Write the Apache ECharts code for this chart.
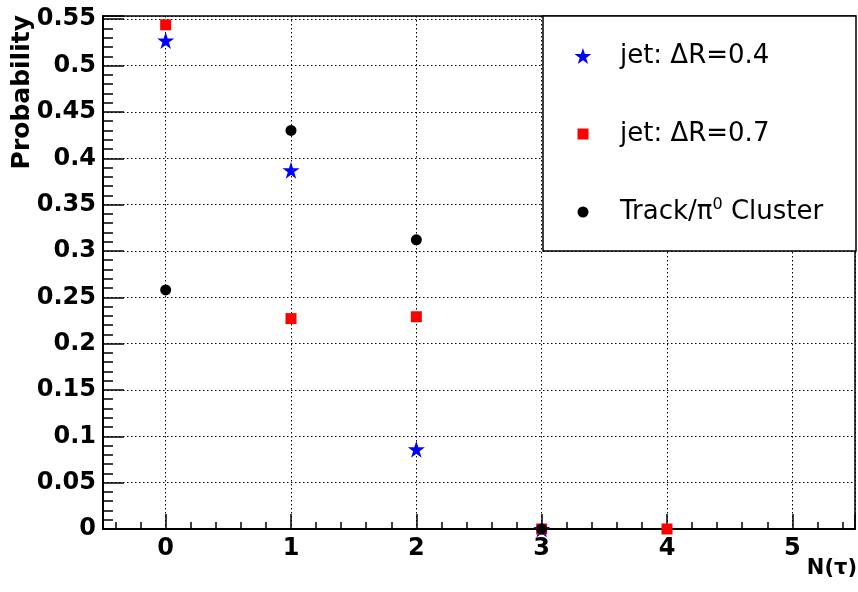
<!DOCTYPE html>
<html>
<head>
<meta charset="utf-8">
<script src="https://cdn.jsdelivr.net/npm/echarts@6/dist/echarts.min.js"></script>
<style>
  html, body { margin: 0; padding: 0; background: #fff; }
  #chart { width: 858px; height: 592px; }
</style>
</head>
<body>
<div id="chart"></div>
<script>
// Number of taus per event and the probability for each reconstruction
const nTau = [0, 1, 2, 3, 4];
const jet04 = [0.527, 0.387, 0.086, 0];
const jet07 = [0.544, 0.227, 0.229, 0, 0];
const cluster = [0.258, 0.430, 0.312, 0];

const seriesNames = ['jet: \u0394R=0.4', 'jet: \u0394R=0.7', 'Track/\u03c00 Cluster'];
const xTickLabels = ['0', '1', '2', '3', '4', '5'];

const X_MIN = -0.5, X_MAX = 5.5;
const Y_MIN = 0, Y_MAX = 0.5535, Y_STEP = 0.05;

const STAR = 'path://M0,-1 L0.2245,-0.309 L0.951,-0.309 L0.363,0.118 L0.588,0.809 L0,0.382 L-0.588,0.809 L-0.363,0.118 L-0.951,-0.309 L-0.2245,-0.309 Z';

const pairs = vals => vals.map((v, i) => [nTau[i], v]);

// plot frame in pixels
const FR = { left: 103, right: 855, top: 16, bottom: 529 };
const pxPerX = (FR.right - FR.left) / (X_MAX - X_MIN);
const pxPerY = (FR.bottom - FR.top) / (Y_MAX - Y_MIN);

const bold = { fontFamily: 'DejaVu Sans', fontWeight: 'bold', fontSize: 24, color: '#000' };
const gridLine = { show: true, lineStyle: { color: '#000', width: 1, type: [1.5, 2.5] } };

const chart = echarts.init(document.getElementById('chart'), null, { renderer: 'canvas' });

const legendText = { fontFamily: 'DejaVu Sans', fontSize: 26, color: '#000', lineHeight: 30 };

function legendAt(name, cx, cy, w, h) {
  return {
    data: [name],
    orient: 'vertical',
    left: cx - w / 2,
    top: cy - 15,
    padding: 0,
    itemWidth: w,
    itemHeight: h,
    selectedMode: false,
    z: 100,
    textStyle: Object.assign({}, legendText, {
      padding: [0, 0, 0, 620 - (cx - w / 2 + w + 5)],
      rich: {
        t: { fontFamily: 'DejaVu Sans', fontSize: 26, color: '#000', lineHeight: 30 },
        sup: { fontFamily: 'DejaVu Sans', fontSize: 16, color: '#000', lineHeight: 30, verticalAlign: 'top', padding: [0, 0, 10, 0] }
      }
    }),
    formatter: n => n === seriesNames[2] ? '{t|Track/\u03c0}{sup|0}{t| Cluster}' : n
  };
}

const option = {
  animation: false,
  backgroundColor: '#fff',
  grid: [
    { left: FR.left, top: FR.top, width: FR.right - FR.left, height: FR.bottom - FR.top,
      show: true, borderColor: '#000', borderWidth: 1.5, backgroundColor: 'transparent' },
    // minor x ticks every 0.2
    { left: FR.left + 0.1 * pxPerX, top: FR.top, width: (FR.right - FR.left) - 0.2 * pxPerX, height: FR.bottom - FR.top },
    // minor y ticks every 0.01
    { left: FR.left, top: FR.bottom - 0.55 * pxPerY, width: FR.right - FR.left, height: 0.55 * pxPerY }
  ],
  xAxis: [
    {
      gridIndex: 0, type: 'value', min: X_MIN, max: X_MAX, splitNumber: 6,
      axisLine: { show: true, onZero: false, lineStyle: { color: '#000', width: 2 } },
      axisTick: { show: true, inside: true, length: 15, lineStyle: { color: '#000', width: 1.5 } },
      axisLabel: Object.assign({}, bold, {
        margin: 8,
        formatter: v => Number.isInteger(Math.round(v * 1e6) / 1e6) ? xTickLabels[Math.round(v)] : ''
      }),
      splitLine: gridLine
    },
    {
      gridIndex: 1, type: 'value', min: -0.4, max: 5.4, interval: 0.2,
      axisLine: { show: false },
      axisTick: { show: true, inside: true, length: 7, lineStyle: { color: '#000', width: 1.5 } },
      axisLabel: { show: false }, splitLine: { show: false }
    },
    { gridIndex: 2, type: 'value', show: false, min: 0, max: 1 }
  ],
  yAxis: [
    {
      gridIndex: 0, type: 'value', min: Y_MIN, max: Y_MAX, interval: Y_STEP,
      axisLine: { show: true, onZero: false, lineStyle: { color: '#000', width: 2 } },
      axisTick: { show: true, inside: true, length: 21, lineStyle: { color: '#000', width: 1.5 } },
      axisLabel: Object.assign({}, bold, {
        margin: 7,
        formatter: v => {
          const k = v / Y_STEP;
          return Math.abs(k - Math.round(k)) < 1e-6 ? String(Math.round(k) * 5 / 100) : '';
        }
      }),
      splitLine: gridLine
    },
    { gridIndex: 1, type: 'value', show: false, min: 0, max: 1 },
    {
      gridIndex: 2, type: 'value', min: 0, max: 0.55, interval: 0.01,
      axisLine: { show: false },
      axisTick: { show: true, inside: true, length: 10, lineStyle: { color: '#000', width: 1.5 } },
      axisLabel: { show: false }, splitLine: { show: false }
    }
  ],
  legend: [
    legendAt(seriesNames[0], 583, 56, 17, 16),
    legendAt(seriesNames[1], 583, 134, 11, 11),
    legendAt(seriesNames[2], 583, 212, 11, 11)
  ],
  graphic: [
    { type: 'rect', z: 50, shape: { x: 543, y: 16, width: 313, height: 235 },
      style: { fill: '#fff', stroke: '#000', lineWidth: 1.5 } },
    { type: 'text', z: 50, x: 22, y: 15, rotation: Math.PI / 2,
      style: { text: 'Probability', fontFamily: 'DejaVu Sans', fontWeight: 'bold', fontSize: 25,
               fill: '#000', align: 'right', verticalAlign: 'middle' } },
    { type: 'text', z: 50, x: 857, y: 569,
      style: { text: 'N(\u03c4)', fontFamily: 'DejaVu Sans', fontWeight: 'bold', fontSize: 21,
               fill: '#000', align: 'right', verticalAlign: 'middle' } }
  ],
  series: [
    { name: seriesNames[0], type: 'scatter', data: pairs(jet04), symbol: STAR, symbolSize: 17,
      itemStyle: { color: '#0000ff', opacity: 1 } },
    { name: seriesNames[1], type: 'scatter', data: pairs(jet07), symbol: 'rect', symbolSize: 11,
      itemStyle: { color: '#ff0000', opacity: 1 } },
    { name: seriesNames[2], type: 'scatter', data: pairs(cluster), symbol: 'circle', symbolSize: 11,
      itemStyle: { color: '#000000', opacity: 1 } }
  ]
};

chart.setOption(option);
</script>
</body>
</html>
